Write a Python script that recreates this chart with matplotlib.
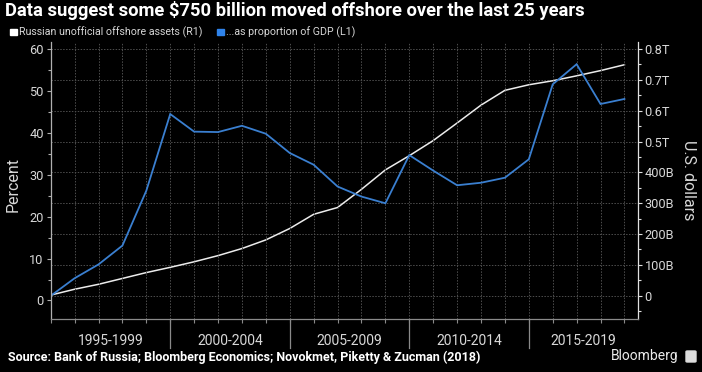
import matplotlib
matplotlib.use("Agg")
import matplotlib.pyplot as plt
from matplotlib.ticker import MultipleLocator, FuncFormatter
from matplotlib.patches import Rectangle, FancyBboxPatch
import matplotlib.transforms as mtransforms

plt.rcParams['font.family'] = ['Roboto', 'DejaVu Sans']

# ---------------- data ----------------
years = list(range(1995, 2020))
assets_bn = [2, 21, 37, 56, 75, 92, 110, 130, 153, 181, 218, 264, 286, 345, 408,
             454, 503, 560, 618, 666, 684, 697, 713, 730, 749]
pct_gdp = [1.1, 5.3, 8.6, 13.1, 26.2, 44.5, 40.3, 40.2, 41.7, 39.8, 35.2, 32.4, 27.2,
           24.8, 23.2, 34.7, 31.0, 27.5, 28.1, 29.3, 33.7, 51.6, 56.4, 46.9, 48.1]
period_labels = ["1995-1999", "2000-2004", "2005-2009", "2010-2014", "2015-2019"]
period_starts = [1995, 2000, 2005, 2010, 2015]

title = "Data suggest some $750 billion moved offshore over the last 25 years"
legend_labels = ["Russian unofficial offshore assets (R1)", "...as proportion of GDP (L1)"]
source = "Source: Bank of Russia; Bloomberg Economics; Novokmet, Piketty & Zucman (2018)"

# ---------------- style ----------------
BG = "#000000"
TXT = "#d8d8d8"
WHITE_LINE = "#ececec"
BLUE_LINE = "#3a7fd0"
BLUE_SQ = "#2f83ea"
GRID = "#4e4e4e"

W, H = 702, 372
fig = plt.figure(figsize=(W / 100, H / 100), dpi=100, facecolor=BG)

x0, x1 = 50.7, 638.3
y_top, y_bot = 42.0, 319.3
ax = fig.add_axes([x0 / W, (H - y_bot) / H, (x1 - x0) / W, (y_bot - y_top) / H])
ax.set_facecolor(BG)
ax2 = ax.twinx()

xmax = 2019.58
ax.set_xlim(1995, xmax)
ax.set_ylim(-4.5, 61.7)
ax2.set_ylim(-76.5, 822.7)

# lines
ax2.plot(years, assets_bn, color=WHITE_LINE, lw=1.1, solid_joinstyle='miter')
ax.plot(years, pct_gdp, color=BLUE_LINE, lw=1.3, solid_joinstyle='miter')
ax.set_zorder(ax2.get_zorder() + 1)
ax.patch.set_visible(False)
ax2.patch.set_facecolor(BG)

# grid: vertical per year (ax), horizontal per right major tick (ax2)
ax.xaxis.set_major_locator(MultipleLocator(1))
ax.grid(axis='x', color=GRID, ls=(0, (1.5, 1.5)), lw=0.7)
ax2.grid(axis='y', color=GRID, ls=(0, (1.5, 1.5)), lw=0.7)
ax.grid(axis='y', visible=False)
ax2.set_axisbelow(True)

# spines
for a in (ax, ax2):
    a.spines['top'].set_visible(False)
ax.spines['left'].set_color("#b0b0b0")
ax.spines['bottom'].set_color("#8a8a8a")
ax.spines['right'].set_visible(False)
ax2.spines['left'].set_visible(False)
ax2.spines['bottom'].set_visible(False)
ax2.spines['right'].set_color("#e0e0e0")
for a in (ax, ax2):
    for s in a.spines.values():
        s.set_linewidth(0.9)

# x ticks
ax.tick_params(axis='x', direction='out', length=3, width=0.8, color="#8a8a8a",
               labelbottom=False)

# left y ticks
ax.yaxis.set_major_locator(MultipleLocator(10))
ax.yaxis.set_minor_locator(MultipleLocator(5))
ax.tick_params(axis='y', which='major', direction='out', length=3, width=0.8,
               color="#b0b0b0", labelcolor=TXT, labelsize=9.2, pad=2)
ax.tick_params(axis='y', which='minor', direction='out', length=2.5, width=0.8,
               color="#b0b0b0")

# right y ticks
def fmt_usd(v, pos):
    v = round(v)
    if v == 0:
        return "0"
    if v >= 500:
        return f"{v/1000:.1f}T"
    return f"{v}B"

ax2.yaxis.set_major_locator(MultipleLocator(100))
ax2.yaxis.set_minor_locator(MultipleLocator(50))
ax2.yaxis.set_major_formatter(FuncFormatter(fmt_usd))
ax2.tick_params(axis='y', which='major', direction='out', length=3, width=0.8,
                color="#e0e0e0", labelcolor=TXT, labelsize=9.2, pad=1.5)
ax2.tick_params(axis='y', which='minor', direction='out', length=2.5, width=0.8,
                color="#e0e0e0")

# axis labels
fig.text(13.5 / W, 1 - 185 / H, "Percent", rotation=90, color=TXT, fontsize=11.5,
         ha='center', va='center')
fig.text(689 / W, 1 - 180 / H, "U.S. dollars", rotation=-90, color=TXT, fontsize=11.5,
         ha='center', va='center')

# period category labels and separators
trans = mtransforms.blended_transform_factory(ax.transData, ax.transAxes)
ax_h = y_bot - y_top
sep_bottom = -(348 - y_bot) / ax_h
lab_y = -(341 - y_bot) / ax_h
for i, (lab, st) in enumerate(zip(period_labels, period_starts)):
    end = period_starts[i + 1] if i + 1 < len(period_starts) else xmax
    ax.text((st + end) / 2, lab_y, lab, transform=trans, color=TXT, fontsize=10,
            ha='center', va='center', clip_on=False)
    if i > 0:
        ax.plot([st, st], [0, sep_bottom], transform=trans, color="#8a8a8a", lw=0.9,
                clip_on=False)

# title
fig.text(5 / W, 1 - 11 / H, title, color="#ffffff", fontsize=13.2, fontweight='bold',
         ha='left', va='center')

# legend
ly = 1 - 32 / H
sq = 6.5
fig.patches.append(Rectangle((10 / W, ly - sq / 2 / H), sq / W, sq / H, color="#ffffff",
                             transform=fig.transFigure, figure=fig))
fig.text(19 / W, ly, legend_labels[0], color=TXT, fontsize=7.7, ha='left', va='center')
fig.patches.append(Rectangle((217 / W, ly - sq / 2 / H), sq / W, sq / H, color=BLUE_SQ,
                             transform=fig.transFigure, figure=fig))
fig.text(226 / W, ly, legend_labels[1], color=TXT, fontsize=7.7, ha='left', va='center')

# footer
fig.text(8 / W, 1 - 357.5 / H, source, color="#ffffff", fontsize=9, fontweight='bold',
         ha='left', va='center')
fig.text(679 / W, 1 - 356 / H, "Bloomberg", color="#ececec", fontsize=10,
         ha='right', va='center')
fig.patches.append(FancyBboxPatch((686 / W, 1 - 362 / H), 10 / W, 11 / H,
                                  boxstyle="round,pad=0,rounding_size=0.002",
                                  color="#dcdcdc", transform=fig.transFigure, figure=fig))

fig.savefig("out.png", dpi=100, facecolor=BG)
